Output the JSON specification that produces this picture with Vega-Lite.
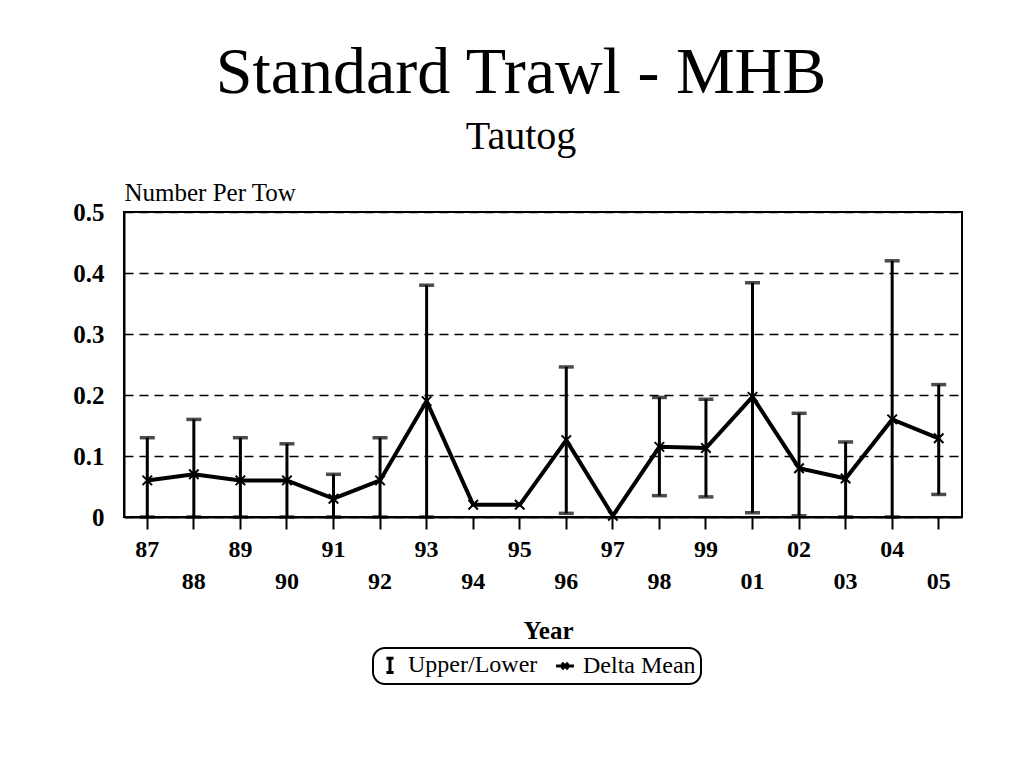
{
  "$schema": "https://vega.github.io/schema/vega-lite/v6.json",
  "autosize": "none",
  "width": 838,
  "height": 305,
  "padding": {"left": 124, "top": 212, "right": 57, "bottom": 250},
  "background": "white",
  "title": {
    "text": "Standard Trawl - MHB",
    "subtitle": "Tautog",
    "anchor": "middle",
    "frame": "group",
    "dx": -22,
    "offset": 22,
    "font": "Liberation Serif",
    "fontSize": 66,
    "fontWeight": "normal",
    "color": "black",
    "subtitleFont": "Liberation Serif",
    "subtitleFontSize": 40,
    "subtitleColor": "black",
    "subtitlePadding": 10
  },
  "config": {
    "view": {"stroke": "black", "strokeWidth": 2},
    "font": "Liberation Serif"
  },
  "data": {
    "values": [
      {"year": "87", "mean": 0.06, "upper": 0.13, "lower": 0},
      {"year": "88", "mean": 0.07, "upper": 0.16, "lower": 0},
      {"year": "89", "mean": 0.06, "upper": 0.13, "lower": 0},
      {"year": "90", "mean": 0.06, "upper": 0.12, "lower": 0},
      {"year": "91", "mean": 0.03, "upper": 0.07, "lower": 0},
      {"year": "92", "mean": 0.06, "upper": 0.13, "lower": 0},
      {"year": "93", "mean": 0.19, "upper": 0.38, "lower": 0},
      {"year": "94", "mean": 0.02, "upper": null, "lower": null},
      {"year": "95", "mean": 0.02, "upper": null, "lower": null},
      {"year": "96", "mean": 0.126, "upper": 0.246, "lower": 0.006},
      {"year": "97", "mean": 0.002, "upper": null, "lower": null},
      {"year": "98", "mean": 0.115, "upper": 0.196, "lower": 0.035},
      {"year": "99", "mean": 0.113, "upper": 0.193, "lower": 0.033},
      {"year": "01", "mean": 0.197, "upper": 0.384, "lower": 0.007},
      {"year": "02", "mean": 0.08, "upper": 0.17, "lower": 0.002},
      {"year": "03", "mean": 0.063, "upper": 0.123, "lower": 0},
      {"year": "04", "mean": 0.16, "upper": 0.42, "lower": 0},
      {"year": "05", "mean": 0.129, "upper": 0.217, "lower": 0.037}
    ]
  },
  "encoding": {
    "x": {
      "field": "year",
      "type": "ordinal",
      "sort": ["87", "88", "89", "90", "91", "92", "93", "94", "95", "96", "97", "98", "99", "01", "02", "03", "04", "05"],
      "scale": {"domain": ["87", "88", "89", "90", "91", "92", "93", "94", "95", "96", "97", "98", "99", "01", "02", "03", "04", "05"], "paddingInner": 0, "paddingOuter": 0},
      "axis": {
        "title": "Year",
        "titleFont": "Liberation Serif",
        "titleFontSize": 25,
        "titleFontWeight": "bold",
        "titleColor": "black",
        "titleBaseline": "alphabetic",
        "titleY": 121,
        "titleX": 424,
        "labelAngle": 0,
        "labelFont": "Liberation Serif",
        "labelFontSize": 24,
        "labelFontWeight": "bold",
        "labelColor": "black",
        "labelOverlap": false,
        "labelFlush": false,
        "labelBaseline": "top",
        "labelPadding": {
          "condition": {"test": "indexof(['88','90','92','94','96','98','01','03','05'], datum.value) >= 0", "value": 40},
          "value": 8
        },
        "ticks": true,
        "tickSize": 12,
        "tickWidth": 2,
        "tickColor": "black",
        "domainColor": "black",
        "domainWidth": 2,
        "grid": false
      }
    }
  },
  "layer": [
    {
      "mark": {"type": "rule", "strokeWidth": 3},
      "transform": [{"filter": "datum.upper != null"}],
      "encoding": {
        "y": {
          "field": "lower",
          "type": "quantitative",
          "scale": {"domain": [0, 0.5], "nice": false},
          "axis": {
            "title": "Number Per Tow",
            "titleAngle": 0,
            "titleAlign": "left",
            "titleBaseline": "alphabetic",
            "titleX": 0,
            "titleY": -12,
            "titleFont": "Liberation Serif",
            "titleFontSize": 25,
            "titleFontWeight": "normal",
            "titleColor": "black",
            "values": [0, 0.1, 0.2, 0.3, 0.4, 0.5],
            "format": ".1~f",
            "labelFont": "Liberation Serif",
            "labelFontSize": 25,
            "labelFontWeight": "bold",
            "labelColor": "black",
            "labelPadding": 20,
            "ticks": false,
            "tickSize": 0,
            "domainColor": "black",
            "domainWidth": 2,
            "grid": true,
            "gridColor": "black",
            "gridDash": [9, 6],
            "gridWidth": 1.5,
            "gridOpacity": 1
          }
        },
        "y2": {"field": "upper"},
        "color": {
          "datum": "Upper/Lower",
          "scale": {"domain": ["Upper/Lower", "Delta Mean"], "range": ["black", "black"]},
          "legend": {
            "title": null,
            "orient": "none",
            "legendX": 249,
            "legendY": 436,
            "direction": "horizontal",
            "strokeColor": "black",
            "cornerRadius": 12,
            "padding": 5,
            "labelFont": "Liberation Serif",
            "labelFontSize": 24,
            "labelColor": "black",
            "labelFontWeight": "normal",
            "columnPadding": 12,
            "labelOffset": 6,
            "symbolSize": 320,
            "symbolStrokeWidth": 2.5,
            "symbolStrokeColor": "black",
            "symbolFillColor": "transparent",
            "symbolOpacity": 1,
            "encode": {
              "legend": {
                "update": {"strokeWidth": {"value": 2}}
              },
              "symbols": {
                "update": {
                  "shape": {"signal": "datum.value === 'Upper/Lower' ? 'M-0.4,-0.8H0.4M0,-0.8V0.8M-0.4,0.8H0.4' : 'M-1,0H1M-0.35,-0.35L0.35,0.35M0.35,-0.35L-0.35,0.35'"},
                  "stroke": {"value": "black"},
                  "fill": {"value": "transparent"},
                  "strokeWidth": {"value": 3}
                }
              }
            }
          }
        }
      }
    },
    {
      "mark": {"type": "tick", "thickness": 3.5, "size": 15, "color": "black"},
      "transform": [{"filter": "datum.upper != null"}],
      "encoding": {"y": {"field": "upper", "type": "quantitative"}}
    },
    {
      "mark": {"type": "tick", "thickness": 3.5, "size": 15, "color": "black"},
      "transform": [{"filter": "datum.lower != null"}],
      "encoding": {"y": {"field": "lower", "type": "quantitative"}}
    },
    {
      "mark": {"type": "line", "color": "black", "strokeWidth": 4},
      "encoding": {"y": {"field": "mean", "type": "quantitative"}}
    },
    {
      "mark": {"type": "point", "shape": "M-1,-1L1,1M1,-1L-1,1", "filled": false, "size": 90, "strokeWidth": 2, "opacity": 1},
      "encoding": {
        "y": {"field": "mean", "type": "quantitative"},
        "color": {"datum": "Delta Mean"}
      }
    }
  ]
}
